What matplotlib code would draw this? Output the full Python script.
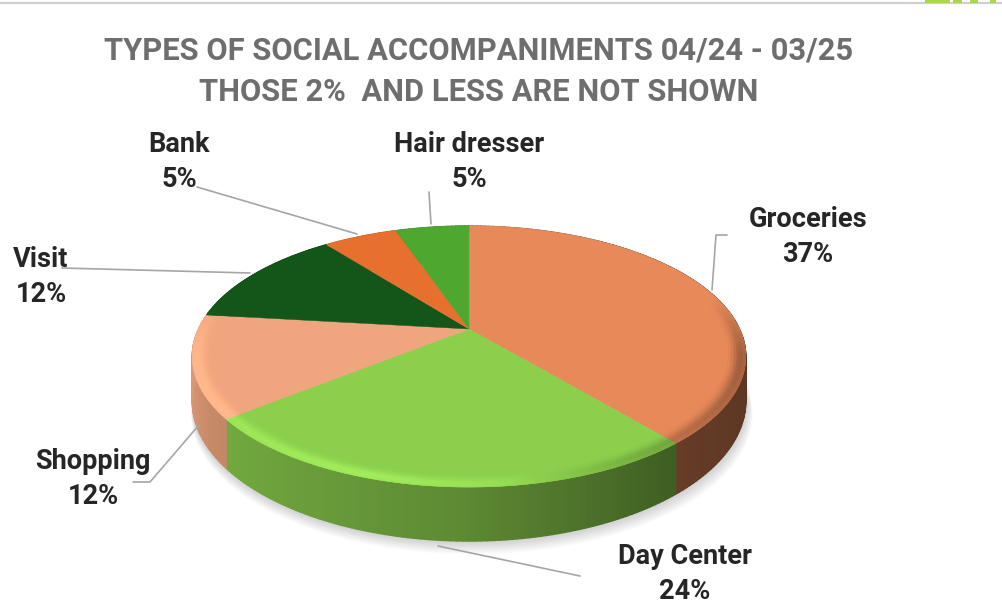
import numpy as np
import matplotlib
matplotlib.use("Agg")
import matplotlib.pyplot as plt
from matplotlib.collections import PolyCollection
from matplotlib.colors import to_rgb

plt.rcParams["font.family"] = ["Roboto", "DejaVu Sans"]

# slices, clockwise from twelve o'clock
categories = ["Groceries", "Day Center", "Shopping", "Visit", "Bank", "Hair dresser"]
shares = [37, 24, 12, 12, 5, 5]
colors = ["#E8895A", "#8CCF4D", "#EFA67E", "#14561A", "#E8702F", "#4EA72E"]

title_lines = ["TYPES OF SOCIAL ACCOMPANIMENTS 04/24 - 03/25",
               "THOSE 2%  AND LESS ARE NOT SHOWN"]

# label centres and leader lines, in figure pixels
label_pos = [(808, 237), (685, 574), (93, 479), (41, 277), (179, 162), (469, 162)]
leaders = [
    [(712, 290), (716, 235), (727, 235)],
    [(438, 546), (580, 576)],
    [(133, 482), (150, 482), (199, 425)],
    [(62, 268), (250, 273)],
    [(197, 187), (357, 234)],
    [(431, 224), (429, 192)],
]

# pie geometry: a disc tilted back, near edge bigger than the far edge
apex_x, apex_y = 469, 329
scale_x, scale_y, tilt = 270.5, 124.7, 0.211
depth = 42.6


def project(r, ang):
    x = r * np.sin(ang)
    y = r * np.cos(ang)
    w = 1 / (1 + tilt * y)
    return apex_x + scale_x * x * w, apex_y - scale_y * y * w, w


def wall_shade(x):
    # side wall gets darker towards the right
    return np.interp(x, [-1, -0.85, 0, 0.7, 1], [0.92, 0.83, 0.66, 0.43, 0.40])


def rim_gain(x, y):
    g = np.interp(x, [-1, -0.3, 0.1, 0.5, 1], [0.08, 0.12, 0.06, -0.15, -0.32])
    return g * np.clip((0.25 - y) / 0.45, 0, 1)


fractions = np.array(shares) / sum(shares)
edges = np.concatenate([[0], np.cumsum(fractions)]) * 2 * np.pi

fig = plt.figure(figsize=(10.03, 6.13), dpi=100)
ax = fig.add_axes([0, 0, 1, 1])
ax.set_xlim(0, 1003)
ax.set_ylim(613, 0)
ax.axis("off")

# header rule and the clipped green shapes above it
ax.plot([0, 1003], [3, 3], color="#cfcfcf", lw=1.5, zorder=1)
for x0, x1 in [(925, 950), (953, 962), (970, 978), (990, 996)]:
    ax.fill_between([x0, x1], 0, 3, color="#A9D84E", lw=0, zorder=2)

# soft shadow under the pie
ang = np.linspace(0, 2 * np.pi, 361)
sx, sy, sw = project(1.0, ang)
for i in range(12, 0, -1):
    ax.fill(apex_x + (sx - apex_x) * (1 + i * 0.0012) + i * 0.25,
            sy + sw * depth + i * 1.1,
            color="#6f6f6f", alpha=0.028, lw=0, zorder=3)

# side walls
quads, quad_colors = [], []
for i, base in enumerate(colors):
    rgb = np.array(to_rgb(base))
    a = np.linspace(edges[i], edges[i + 1], max(4, int(np.degrees(edges[i + 1] - edges[i]))))
    px, py, pw = project(1.0, a)
    for j in range(len(a) - 1):
        quads.append([(px[j], py[j]), (px[j + 1], py[j + 1]),
                      (px[j + 1], py[j + 1] + pw[j + 1] * depth),
                      (px[j], py[j] + pw[j] * depth)])
        quad_colors.append(rgb * wall_shade(np.sin((a[j] + a[j + 1]) / 2)))
ax.add_collection(PolyCollection(quads, facecolors=quad_colors, edgecolors=quad_colors,
                                 linewidths=1.0, zorder=4))

# top faces
for i, base in enumerate(colors):
    a = np.linspace(edges[i], edges[i + 1], 120)
    px, py, _ = project(1.0, a)
    ax.fill(np.r_[apex_x, px], np.r_[apex_y, py], color=base, lw=0.3, zorder=5)

# bevel along the edge of the top face
bands = np.linspace(0.94, 1.0, 7)
profile = [0.1, 0.3, 0.6, 0.9, 1.0, 0.9]
quads, quad_colors = [], []
for i, base in enumerate(colors):
    rgb = np.array(to_rgb(base))
    a = np.linspace(edges[i], edges[i + 1], max(4, int(np.degrees(edges[i + 1] - edges[i]))))
    for b in range(len(bands) - 1):
        ix, iy, _ = project(bands[b], a)
        ox, oy, _ = project(bands[b + 1], a)
        for j in range(len(a) - 1):
            mid = (a[j] + a[j + 1]) / 2
            gain = rim_gain(np.sin(mid), np.cos(mid)) * profile[b]
            c = np.clip(rgb * (1 + gain) + max(gain, 0) * 0.2, 0, 1)
            quads.append([(ix[j], iy[j]), (ix[j + 1], iy[j + 1]),
                          (ox[j + 1], oy[j + 1]), (ox[j], oy[j])])
            quad_colors.append(c)
ax.add_collection(PolyCollection(quads, facecolors=quad_colors, edgecolors=quad_colors,
                                 linewidths=0.4, zorder=6))

# leader lines
for pts in leaders:
    xs, ys = zip(*pts)
    ax.plot(xs, ys, color="#a6a6a6", lw=1.2, zorder=7, solid_capstyle="round")

# labels
for name, share, (lx, ly) in zip(categories, shares, label_pos):
    ax.text(lx, ly, f"{name}\n{share}%", ha="center", va="center",
            fontsize=19.5, fontweight="bold", color="#262626", linespacing=1.42, zorder=8)

ax.text(479, 50, title_lines[0], ha="center", va="center",
        fontsize=22.2, fontweight="bold", color="#6e6e6e", zorder=8)
ax.text(479, 92, title_lines[1], ha="center", va="center",
        fontsize=22.2, fontweight="bold", color="#6e6e6e", zorder=8)

fig.savefig("out.png", dpi=100, facecolor="white")
